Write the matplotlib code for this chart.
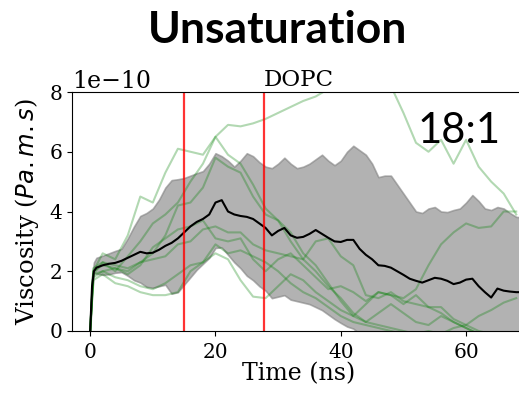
import numpy as np
import matplotlib
matplotlib.use("Agg")
import matplotlib.pyplot as plt
from matplotlib.ticker import ScalarFormatter

plt.rcParams['font.family'] = 'serif'
plt.rcParams['font.size'] = 14.5

# viscosity values are in units of 1e-10 Pa.m.s
t_ns = [0, 0.3, 0.6] + list(range(1, 70))

visc_mean = [0.0, 1.5, 2.0,
             2.12, 2.2, 2.25, 2.28, 2.35, 2.45, 2.55, 2.65, 2.6, 2.62,
             2.72, 2.85, 2.95, 3.1, 3.3, 3.5, 3.65, 3.75, 3.9, 4.3,
             4.38, 4.0, 3.9, 3.85, 3.82, 3.75, 3.6, 3.45, 3.2, 3.35,
             3.45, 3.2, 3.12, 3.15, 3.25, 3.38, 3.25, 3.12, 3.0, 2.98,
             3.05, 3.05, 2.75, 2.55, 2.4, 2.2, 2.18, 2.12, 2.0, 1.88,
             1.75, 1.68, 1.62, 1.7, 1.78, 1.75, 1.68, 1.57, 1.62, 1.72,
             1.75, 1.5, 1.3, 1.12, 1.42, 1.35, 1.32, 1.3, 1.3]

visc_upper = [0.0, 1.8, 2.3,
              2.45, 2.52, 2.6, 2.68, 2.75, 3.1, 3.5, 3.85, 3.95, 4.1,
              4.4, 4.8, 5.05, 5.08, 5.12, 5.2, 5.28, 5.35, 5.6, 5.95,
              5.85, 5.7, 5.5, 5.7, 5.95, 5.85, 5.65, 5.5, 5.45, 5.6,
              5.8, 5.6, 5.45, 5.5, 5.6, 5.75, 5.9, 5.7, 5.55, 5.7,
              6.0, 6.2, 6.05, 5.9, 5.6, 5.15, 5.2, 5.2, 4.9, 4.6,
              4.3, 4.0, 3.95, 4.1, 4.15, 4.0, 3.98, 4.05, 4.1, 4.3,
              4.55, 4.35, 4.1, 4.05, 4.15, 4.1, 3.95, 3.82, 3.8]

visc_lower = [0.0, 1.2, 1.95,
              1.92, 1.88, 1.9, 1.95, 1.97, 1.85, 1.7, 1.62, 1.48, 1.45,
              1.5, 1.55, 1.25, 1.3, 1.55, 1.8, 2.05, 2.25, 2.45, 2.78,
              2.8, 2.55, 2.3, 2.1, 1.85, 1.7, 1.5, 1.35, 1.1, 1.15,
              1.2, 1.05, 1.0, 0.95, 0.9, 0.8, 0.7, 0.55, 0.4, 0.27,
              0.15, 0.08, -0.1, -0.25, -0.4, -0.6, -0.7, -0.75, -0.9, -1.0,
              -1.1, -1.1, -1.0, -0.9, -0.95, -1.0, -1.1, -1.0, -0.9, -0.85,
              -0.9, -1.0, -1.1, -1.2, -1.1, -1.0, -1.0, -1.0, -1.0]

# individual replicas
t_rep = [0, 0.5] + list(range(2, 70, 2))

rep_1 = [0.0, 2.0, 2.6, 2.4, 3.2, 4.5, 4.3, 5.3, 6.1, 6.0, 5.9, 6.5,
         6.9, 6.85, 6.95, 7.1, 7.3, 7.5, 7.7, 7.85, 8.1, 8.6, 9.0, 9.3,
         9.0, 8.2, 7.3, 6.3, 6.0, 6.4, 5.6, 6.4, 5.5, 5.0, 4.6, 3.9]
rep_2 = [0.0, 1.9, 2.3, 2.0, 2.5, 3.0, 3.6, 3.9, 4.3, 5.0, 5.6, 6.5,
         5.9, 5.6, 4.9, 4.1, 3.7, 3.3, 2.6, 2.2, 1.6, 1.0, 0.5, 0.3,
         0.2, 0.1, 0.0, -0.1, -0.2, -0.2, -0.3, -0.3, -0.4, -0.4, -0.4, -0.5]
rep_3 = [0.0, 1.7, 1.9, 1.6, 1.5, 1.3, 1.2, 1.2, 1.3, 2.0, 2.3, 2.9,
         2.6, 2.7, 2.5, 2.3, 2.0, 1.6, 1.3, 1.1, 0.8, 0.5, 0.3, 0.2,
         0.1, 0.0, -0.1, -0.1, 0.0, -0.1, 0.1, 0.2, 0.5, 0.7, 0.95, 1.1]
rep_4 = [0.0, 1.8, 2.0, 1.8, 1.7, 1.5, 1.4, 1.6, 1.9, 2.2, 2.3, 2.6,
         2.4, 1.7, 1.15, 1.1, 1.5, 1.9, 1.7, 1.3, 1.0, 0.7, 0.5, 0.9,
         1.3, 1.2, 1.1, 1.4, 2.2, 2.9, 3.3, 3.6, 3.45, 3.5, 4.0, 4.0]
rep_5 = [0.0, 2.0, 2.2, 2.1, 2.0, 2.3, 2.6, 3.2, 4.2, 4.3, 4.8, 5.8,
         5.5, 5.3, 4.5, 3.9, 3.7, 3.0, 2.4, 2.0, 1.5, 1.1, 0.6, 0.3,
         0.6, 0.9, 0.6, 0.3, 0.2, 0.5, 0.3, 0.1, -0.1, -0.2, -0.2, -0.3]
rep_6 = [0.0, 2.1, 2.3, 2.2, 2.1, 2.3, 2.4, 2.5, 2.9, 3.0, 3.4, 3.5,
         3.3, 3.3, 2.9, 2.7, 2.6, 2.5, 2.4, 3.0, 3.1, 2.5, 2.2, 1.2,
         1.1, 1.3, 1.0, 0.9, 0.8, 0.8, 0.4, 0.2, 0.0, -0.1, -0.2, -0.2]
rep_7 = [0.0, 1.9, 2.0, 2.1, 1.9, 2.2, 2.8, 3.1, 3.4, 3.5, 3.7, 3.1,
         3.0, 3.1, 2.4, 2.0, 2.4, 2.6, 2.2, 1.8, 1.4, 1.5, 1.3, 1.0,
         1.3, 1.2, 0.9, 1.2, 0.8, 0.6, 0.3, 0.1, -0.1, -0.2, -0.3, -0.3]

replicas = [rep_1, rep_2, rep_3, rep_4, rep_5, rep_6, rep_7]

# averaging window limits (ns)
window_lines = [15, 27.7]

scale = 1e-10

fig = plt.figure(figsize=(5.19, 3.93), dpi=100)
ax = fig.add_axes([72 / 519, 62 / 393, 453 / 519, 239 / 393])

t = np.array(t_ns)
ax.fill_between(t, np.array(visc_lower) * scale, np.array(visc_upper) * scale,
                color='grey', alpha=0.6, linewidth=1.2)
for rep in replicas:
    ax.plot(t_rep, np.array(rep) * scale, color='g', alpha=0.3, linewidth=1.5)
ax.plot(t, np.array(visc_mean) * scale, color='k', linewidth=1.5)
for x in window_lines:
    ax.axvline(x, color='red', alpha=0.8, linewidth=1.6)

ax.set_xlim(-2.9, 69.4)
ax.set_ylim(0, 8e-10)
ax.set_xticks([0, 20, 40, 60])
ax.set_yticks(np.array([0, 2, 4, 6, 8]) * scale)
fmt = ScalarFormatter(useMathText=False)
fmt.set_powerlimits((0, 0))
ax.yaxis.set_major_formatter(fmt)
ax.yaxis.get_offset_text().set_fontsize(17)
ax.tick_params(axis='x', pad=5)

ax.set_xlabel('Time (ns)', fontsize=17, labelpad=0)
ax.set_ylabel('Viscosity ($Pa.m.s$)', fontsize=17.5, labelpad=6)
ax.set_title('DOPC', fontsize=16.5, pad=4)

ax.text(0.855, 0.835, '18:1', transform=ax.transAxes, family='Lato',
        fontsize=30, ha='center', va='center')
fig.text(0.534, 0.924, 'Unsaturation', family='Lato', fontweight='bold',
         fontsize=32, ha='center', va='center')

fig.savefig('out.png', dpi=100)
